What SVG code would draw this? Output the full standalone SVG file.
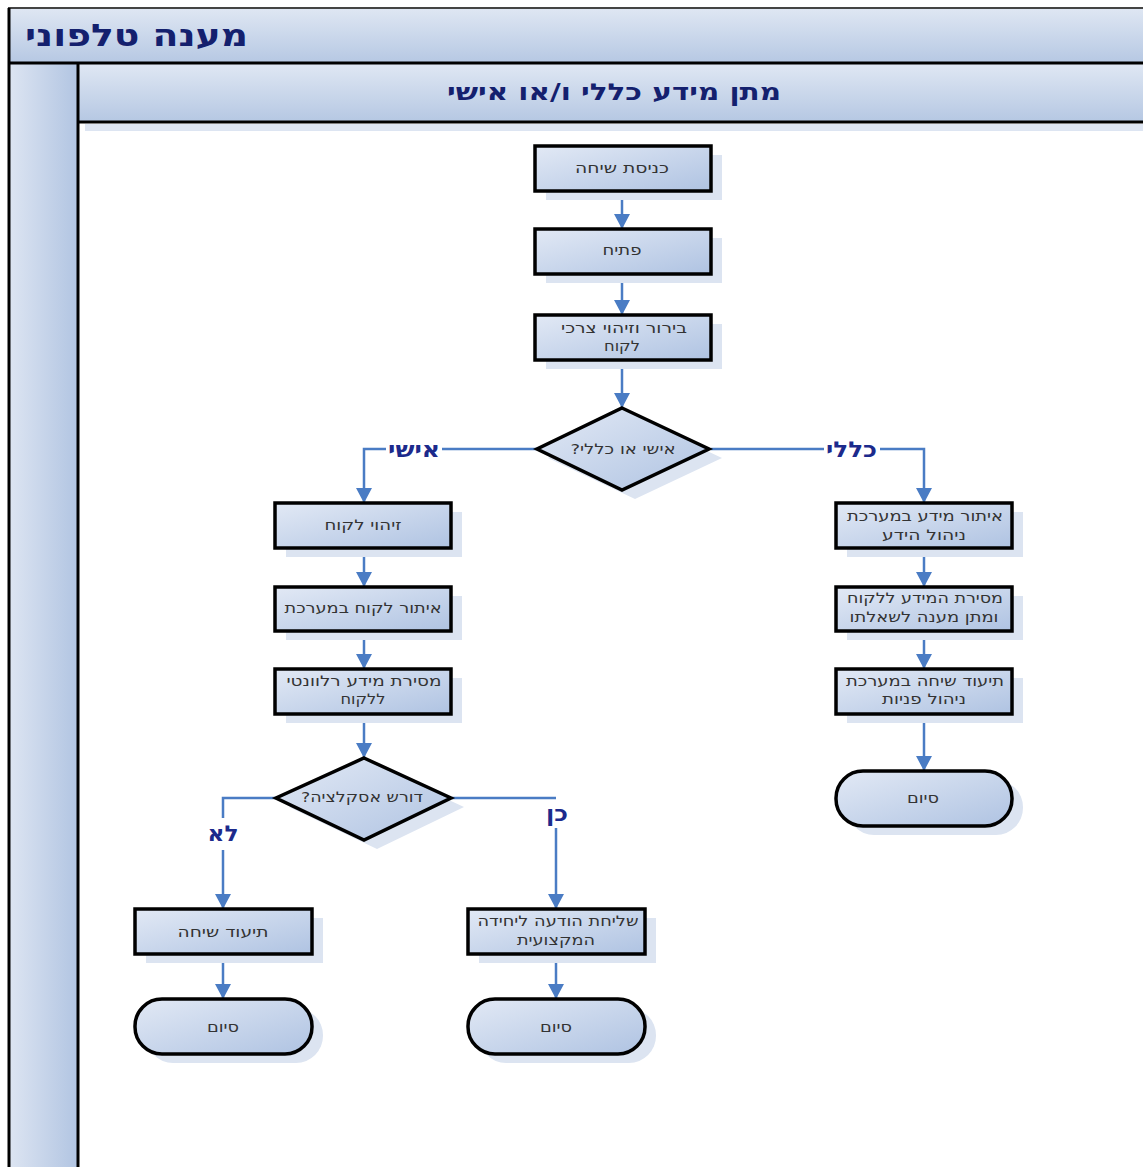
<svg xmlns="http://www.w3.org/2000/svg" width="1143" height="1167" viewBox="0 0 1143 1167">
<defs>
<linearGradient id="gNode" x1="0" y1="0" x2="1" y2="1">
<stop offset="0" stop-color="#e2e9f5"/>
<stop offset="1" stop-color="#afc3e2"/>
</linearGradient>
<linearGradient id="gHead" x1="0" y1="0" x2="0" y2="1">
<stop offset="0" stop-color="#dfe7f3"/>
<stop offset="1" stop-color="#b6c8e3"/>
</linearGradient>
<linearGradient id="gLane" x1="0" y1="0" x2="1" y2="0">
<stop offset="0" stop-color="#dde5f2"/>
<stop offset="1" stop-color="#b2c5e2"/>
</linearGradient>
<marker id="arr" markerUnits="userSpaceOnUse" markerWidth="18" markerHeight="18" refX="15" refY="8" orient="auto">
<path d="M0,0 L15,8 L0,16 Z" fill="#4a7cc4"/>
</marker>
<style>
.box{fill:url(#gNode);stroke:#000;stroke-width:3.5}
.sh{fill:#dce4f1}
.t{font-family:"DejaVu Sans","Liberation Sans",sans-serif;font-size:14.5px;fill:#333;text-anchor:middle;direction:rtl}
.lbl{font-family:"DejaVu Sans","Liberation Sans",sans-serif;font-size:22px;font-weight:bold;fill:#1c2a8c;text-anchor:middle;direction:rtl}
.ttl{font-family:"DejaVu Sans","Liberation Sans",sans-serif;font-weight:bold;fill:#14206e;text-anchor:middle;direction:rtl}
.c{fill:none;stroke:#4a7cc4;stroke-width:2.5;marker-end:url(#arr)}
.cl{fill:none;stroke:#4a7cc4;stroke-width:2.5}
</style>
</defs>
<rect width="1143" height="1167" fill="#fff"/>
<g id="pool">
<rect x="9" y="8" width="1134" height="55" fill="url(#gHead)"/>
<rect x="9" y="63" width="68" height="1104" fill="url(#gLane)"/>
<rect x="79" y="64" width="1064" height="57" fill="url(#gHead)"/>
<rect x="85" y="124" width="1058" height="7" fill="#dde5f2"/>
<line x1="8" y1="8" x2="1143" y2="8" stroke="#444" stroke-width="2"/>
<line x1="9" y1="8" x2="9" y2="1167" stroke="#000" stroke-width="3"/>
<line x1="8" y1="63" x2="1143" y2="63" stroke="#000" stroke-width="3"/>
<line x1="78" y1="63" x2="78" y2="1167" stroke="#000" stroke-width="3"/>
<line x1="78" y1="122" x2="1143" y2="122" stroke="#000" stroke-width="3"/>
<text class="ttl" x="136.5" y="46" font-size="31" textLength="223" lengthAdjust="spacingAndGlyphs">מענה טלפוני</text>
<text class="ttl" x="614" y="100" font-size="23" textLength="334" lengthAdjust="spacingAndGlyphs">מתן מידע כללי ו/או אישי</text>
</g>
<g id="connectors">
<path class="c" d="M622,191 V229"/>
<path class="c" d="M622,274 V315"/>
<path class="c" d="M622,360 V408"/>
<path class="c" d="M537,449 H364 V503"/>
<path class="c" d="M711,449 H924 V503"/>
<path class="c" d="M364,548 V587"/>
<path class="c" d="M364,631 V669"/>
<path class="c" d="M364,714 V758"/>
<path class="cl" d="M276,798 H223 V818"/>
<path class="c" d="M223,850 V909"/>
<path class="cl" d="M452,798 H556"/>
<path class="c" d="M556,828 V909"/>
<path class="c" d="M223,954 V999"/>
<path class="c" d="M556,954 V999"/>
<path class="c" d="M924,548 V587"/>
<path class="c" d="M924,631 V669"/>
<path class="c" d="M924,714 V771"/>
<rect x="386" y="438" width="56" height="22" fill="#fff"/>
<rect x="824" y="438" width="56" height="22" fill="#fff"/>
<text class="lbl" x="414" y="457" textLength="52" lengthAdjust="spacingAndGlyphs">אישי</text>
<text class="lbl" x="851.5" y="457" textLength="51" lengthAdjust="spacingAndGlyphs">כללי</text>
<text class="lbl" x="223" y="841" textLength="31" lengthAdjust="spacingAndGlyphs">לא</text>
<text class="lbl" x="557" y="821" textLength="22" lengthAdjust="spacingAndGlyphs">כן</text>
</g>
<g id="n1"><rect class="sh" x="546" y="155" width="176" height="45"/><rect class="box" x="535" y="146" width="176" height="45"/><text class="t" x="622" y="173" textLength="94" lengthAdjust="spacingAndGlyphs">כניסת שיחה</text></g>
<g id="n2"><rect class="sh" x="546" y="238" width="176" height="45"/><rect class="box" x="535" y="229" width="176" height="45"/><text class="t" x="622" y="255" textLength="39" lengthAdjust="spacingAndGlyphs">פתיח</text></g>
<g id="n3"><rect class="sh" x="546" y="324" width="176" height="45"/><rect class="box" x="535" y="315" width="176" height="45"/><text class="t" x="624" y="333" textLength="126" lengthAdjust="spacingAndGlyphs">בירור וזיהוי צרכי</text><text class="t" x="622" y="351" textLength="36" lengthAdjust="spacingAndGlyphs">לקוח</text></g>
<g id="d1"><path class="sh" d="M635,417 L722,458 L635,499 L548,458 Z"/><path class="box" d="M622,408 L709,449 L622,490 L537,449 Z"/><text class="t" x="623" y="454" textLength="105" lengthAdjust="spacingAndGlyphs">אישי או כללי?</text></g>
<g id="n4"><rect class="sh" x="286" y="512" width="176" height="45"/><rect class="box" x="275" y="503" width="176" height="45"/><text class="t" x="363" y="530" textLength="77" lengthAdjust="spacingAndGlyphs">זיהוי לקוח</text></g>
<g id="n5"><rect class="sh" x="286" y="596" width="176" height="44"/><rect class="box" x="275" y="587" width="176" height="44"/><text class="t" x="363" y="613" textLength="157" lengthAdjust="spacingAndGlyphs">איתור לקוח במערכת</text></g>
<g id="n6"><rect class="sh" x="286" y="678" width="176" height="45"/><rect class="box" x="275" y="669" width="176" height="45"/><text class="t" x="364" y="686" textLength="155" lengthAdjust="spacingAndGlyphs">מסירת מידע רלוונטי</text><text class="t" x="363" y="704" textLength="45" lengthAdjust="spacingAndGlyphs">ללקוח</text></g>
<g id="d2"><path class="sh" d="M377,767 L464,807 L377,849 L289,807 Z"/><path class="box" d="M364,758 L451,798 L364,840 L276,798 Z"/><text class="t" x="362" y="802" textLength="122" lengthAdjust="spacingAndGlyphs">דורש אסקלציה?</text></g>
<g id="n7"><rect class="sh" x="146" y="918" width="177" height="45"/><rect class="box" x="135" y="909" width="177" height="45"/><text class="t" x="223" y="937" textLength="91" lengthAdjust="spacingAndGlyphs">תיעוד שיחה</text></g>
<g id="n8"><rect class="sh" x="479" y="918" width="177" height="45"/><rect class="box" x="468" y="909" width="177" height="45"/><text class="t" x="558" y="926" textLength="161" lengthAdjust="spacingAndGlyphs">שליחת הודעה ליחידה</text><text class="t" x="556" y="945" textLength="78" lengthAdjust="spacingAndGlyphs">המקצועית</text></g>
<g id="e1"><rect class="sh" x="146" y="1008" width="177" height="55" rx="27"/><rect class="box" x="135" y="999" width="177" height="55" rx="27"/><text class="t" x="223" y="1032" textLength="32" lengthAdjust="spacingAndGlyphs">סיום</text></g>
<g id="e2"><rect class="sh" x="479" y="1008" width="177" height="55" rx="27"/><rect class="box" x="468" y="999" width="177" height="55" rx="27"/><text class="t" x="556" y="1032" textLength="32" lengthAdjust="spacingAndGlyphs">סיום</text></g>
<g id="n9"><rect class="sh" x="847" y="512" width="176" height="45"/><rect class="box" x="836" y="503" width="176" height="45"/><text class="t" x="925" y="521" textLength="156" lengthAdjust="spacingAndGlyphs">איתור מידע במערכת</text><text class="t" x="924" y="540" textLength="84" lengthAdjust="spacingAndGlyphs">ניהול הידע</text></g>
<g id="n10"><rect class="sh" x="847" y="596" width="176" height="44"/><rect class="box" x="836" y="587" width="176" height="44"/><text class="t" x="925" y="603" textLength="156" lengthAdjust="spacingAndGlyphs">מסירת המידע ללקוח</text><text class="t" x="924" y="622" textLength="149" lengthAdjust="spacingAndGlyphs">ומתן מענה לשאלתו</text></g>
<g id="n11"><rect class="sh" x="847" y="678" width="176" height="45"/><rect class="box" x="836" y="669" width="176" height="45"/><text class="t" x="925" y="686" textLength="158" lengthAdjust="spacingAndGlyphs">תיעוד שיחה במערכת</text><text class="t" x="924" y="704" textLength="84" lengthAdjust="spacingAndGlyphs">ניהול פניות</text></g>
<g id="e3"><rect class="sh" x="847" y="780" width="176" height="55" rx="27"/><rect class="box" x="836" y="771" width="176" height="55" rx="27"/><text class="t" x="923" y="803" textLength="32" lengthAdjust="spacingAndGlyphs">סיום</text></g>
</svg>
